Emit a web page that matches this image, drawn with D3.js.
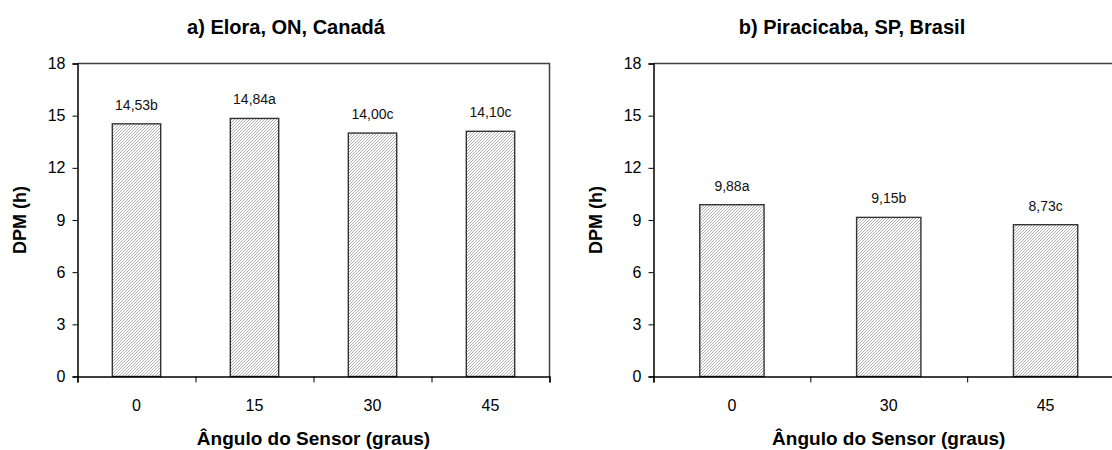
<!DOCTYPE html>
<html>
<head>
<meta charset="utf-8">
<script src="https://cdn.jsdelivr.net/npm/d3@7"></script>
<style>
  body { margin: 0; background: #fff; }
  svg { display: block; font-family: "Liberation Sans", Arial, sans-serif; }
</style>
</head>
<body>
<div id="chart"></div>
<script>
// values
var anglesA = ["0", "15", "30", "45"];
var valuesA = [14.53, 14.84, 14.00, 14.10];
var lettersA = ["b", "a", "c", "c"];

var anglesB = ["0", "30", "45"];
var valuesB = [9.88, 9.15, 8.73];
var lettersB = ["a", "b", "c"];

var yTicks = [0, 3, 6, 9, 12, 15, 18];

var titleA = "a) Elora, ON, Canadá";
var titleB = "b) Piracicaba, SP, Brasil";
var xTitle = "Ângulo do Sensor (graus)";
var yTitle = "DPM (h)";

var W = 1112, H = 450;
var ptBR = d3.formatLocale({decimal: ",", thousands: ".", grouping: [3], currency: ["R$", ""]});
var fmt = ptBR.format(".2f");

var svg = d3.select("#chart").append("svg")
    .attr("width", W).attr("height", H);

// fine diagonal hatch for the bars
var defs = svg.append("defs");
var pat = defs.append("pattern")
    .attr("id", "hatch")
    .attr("patternUnits", "userSpaceOnUse")
    .attr("width", 3).attr("height", 3);
pat.append("rect").attr("width", 3).attr("height", 3).attr("fill", "#ffffff");
pat.append("path")
    .attr("d", "M-1,1 l2,-2 M0,3 l3,-3 M2,4 l2,-2")
    .attr("stroke", "#a6a6a6")
    .attr("stroke-width", 0.9);

function drawPanel(cats, vals, letters, title, left, right, titleX, yLabX) {
    var top = 63.5, bottom = 376.5;

    var y = d3.scaleLinear().domain([0, 18]).range([bottom, top]);

    var x = d3.scaleBand()
        .domain(cats)
        .range([left, right])
        .paddingInner(0.59)
        .paddingOuter(0.295);

    var xEdges = d3.scaleLinear().domain([0, cats.length]).range([left, right]);

    var g = svg.append("g");

    // frame (top + right)
    g.append("path")
        .attr("d", "M" + left + "," + top + "H" + right + "V" + bottom)
        .attr("fill", "none")
        .attr("stroke", "#404040")
        .attr("stroke-width", 1.5);

    // bars
    g.selectAll("rect.bar")
        .data(vals)
        .enter().append("rect")
        .attr("class", "bar")
        .attr("x", function(d, i) { return x(cats[i]); })
        .attr("width", x.bandwidth())
        .attr("y", function(d) { return y(d); })
        .attr("height", function(d) { return y(0) - y(d); })
        .attr("fill", "url(#hatch)")
        .attr("stroke", "#333")
        .attr("stroke-width", 1.4);

    // value labels
    g.selectAll("text.val")
        .data(vals)
        .enter().append("text")
        .attr("class", "val")
        .attr("x", function(d, i) { return x(cats[i]) + x.bandwidth() / 2; })
        .attr("y", function(d) { return y(d) - 14; })
        .attr("text-anchor", "middle")
        .attr("font-size", "14px")
        .attr("fill", "#111")
        .text(function(d, i) { return fmt(d) + letters[i]; });

    // y axis
    var yAxis = g.append("g")
        .attr("transform", "translate(" + left + ",0)")
        .call(d3.axisLeft(y).tickValues(yTicks).tickSize(5).tickPadding(7));
    yAxis.selectAll("text").attr("font-size", "16px").attr("fill", "#000").attr("font-family", null);
    yAxis.select(".domain").attr("stroke", "#000").attr("stroke-width", 1.5);

    // x axis: tick marks at category edges, labels centred under bars
    var xTickAxis = g.append("g")
        .attr("transform", "translate(0," + bottom + ")")
        .call(d3.axisBottom(xEdges).ticks(cats.length).tickSize(6).tickFormat(""));
    xTickAxis.select(".domain").attr("stroke", "#000").attr("stroke-width", 1.5);

    var xLab = g.append("g")
        .attr("transform", "translate(0," + bottom + ")")
        .call(d3.axisBottom(x).tickSize(0).tickPadding(23));
    xLab.select(".domain").remove();
    xLab.selectAll("text").attr("font-size", "16px").attr("fill", "#000").attr("font-family", null);

    // titles
    g.append("text")
        .attr("x", titleX).attr("y", 34)
        .attr("text-anchor", "middle")
        .attr("font-size", "20px")
        .attr("font-weight", "bold")
        .text(title);

    g.append("text")
        .attr("x", (left + right) / 2).attr("y", 445)
        .attr("text-anchor", "middle")
        .attr("font-size", "19px")
        .attr("font-weight", "bold")
        .text(xTitle);

    g.append("text")
        .attr("transform", "translate(" + yLabX + "," + ((top + bottom) / 2) + ") rotate(-90)")
        .attr("text-anchor", "middle")
        .attr("font-size", "18px")
        .attr("font-weight", "bold")
        .text(yTitle);
}

drawPanel(anglesA, valuesA, lettersA, titleA, 77.5, 549.5, 286, 26);
drawPanel(anglesB, valuesB, lettersB, titleB, 653.5, 1124, 852, 602);
</script>
</body>
</html>
